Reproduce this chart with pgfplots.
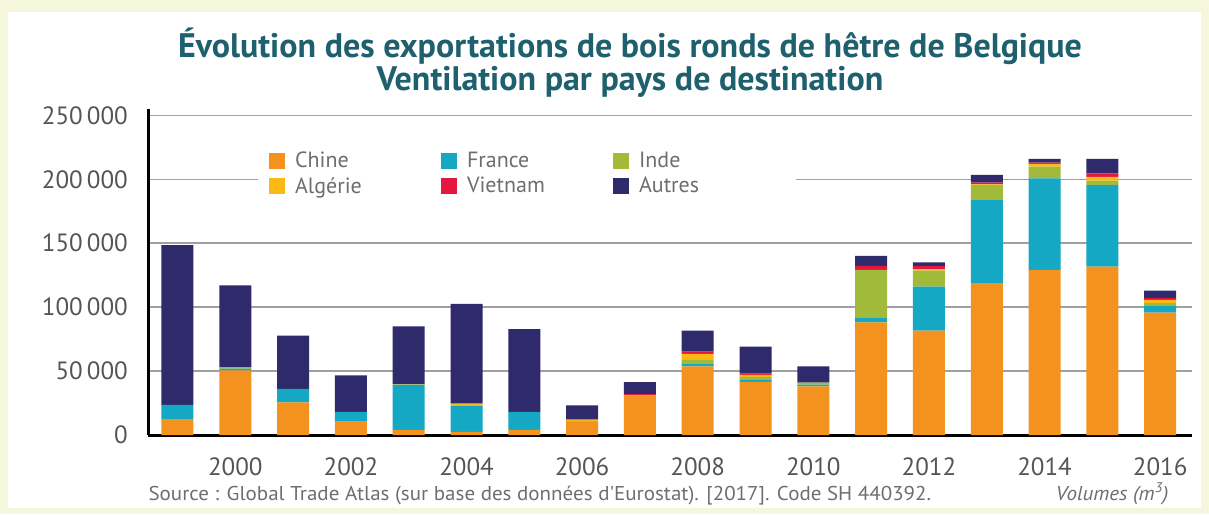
\documentclass[border=0pt]{standalone}
\usepackage{fontspec}
\setmainfont{PT Sans}
\newfontfamily\srcfont[FakeStretch=1.05]{PT Sans}
\usepackage{pgfplots}
\usepackage{pgfplotstable}
\pgfplotsset{compat=1.18}

\definecolor{bgyel}{RGB}{245,247,221}
\definecolor{titleteal}{RGB}{30,96,110}
\definecolor{cChine}{RGB}{243,146,30}
\definecolor{cFrance}{RGB}{20,168,197}
\definecolor{cInde}{RGB}{162,186,58}
\definecolor{cAlgerie}{RGB}{253,185,19}
\definecolor{cVietnam}{RGB}{228,23,63}
\definecolor{cAutres}{RGB}{46,42,107}
\definecolor{labgray}{RGB}{85,85,85}
\definecolor{leggray}{RGB}{110,110,110}
\definecolor{gridgray}{RGB}{160,160,160}

% volumes en m3
\pgfplotstableread{
year chine france inde algerie vietnam autres
1999 12500 11000 0 0 0 125000
2000 50500 1500 1000 0 0 64000
2001 25500 10500 0 0 0 41800
2002 10500 7500 0 0 0 28600
2003 4000 35500 0 300 0 45100
2004 2500 20500 0 1500 0 78100
2005 4000 14000 0 0 0 64800
2006 10000 500 500 1000 0 11100
2007 31000 0 0 0 1000 9400
2008 53600 1800 3400 4700 1800 16400
2009 41500 1500 2500 1500 1000 21200
2010 38000 1500 1500 0 0 12600
2011 88000 3400 37700 0 3200 7800
2012 81700 34400 12500 1000 2600 2900
2013 118700 65100 11700 500 1400 6000
2014 129100 71700 9100 2100 1000 2900
2015 131700 63800 3400 3100 2700 11200
2016 95800 5500 1800 2600 1300 6000
}\exports

\begin{document}
\begin{tikzpicture}[x=1pt,y=1pt]
\fill[bgyel] (0,0) rectangle (1209,514);
\fill[white] (8,6) rectangle (1201,502);
\begin{axis}[
    at={(148pt,79pt)}, anchor=south west,
    scale only axis, width=1044pt, height=326pt,
    xmin=1998.49, xmax=2016.55,
    ymin=0, ymax=255000,
    ybar stacked, bar width=32pt,
    axis x line=bottom, axis y line=left,
    axis line style={-, line width=3pt, black},
    major tick length=0pt,
    xtick={2000,2002,...,2016},
    ytick={0,50000,...,250000},
    scaled y ticks=false,
    ymajorgrids=true,
    grid style={line width=1.5pt, gridgray},
    tick label style={font=\fontsize{25}{28}\selectfont, labgray},
    xticklabel style={/pgf/number format/1000 sep={}, /pgf/number format/assume math mode=true,
        anchor=north, inner sep=0pt, yshift=-22pt},
    yticklabel style={/pgf/number format/fixed, /pgf/number format/1000 sep={\,},
        /pgf/number format/assume math mode=true, anchor=east, inner sep=0pt, xshift=-20pt},
    legend columns=3,
    legend image code/.code={\fill[#1] (0pt,-8pt) rectangle (16pt,8pt);},
    legend style={at={(0.1054,0.868)}, anchor=north west, fill=white, draw=none,
        inner xsep=11pt, inner ysep=0pt, outer sep=0pt,
        font=\fontsize{22}{24}\selectfont, text=leggray,
        nodes={inner sep=0pt},
        row sep=8pt,
        /tikz/every odd column/.append style={column sep=10pt}},
    legend cell align=left,
]
\addplot[fill=cChine, draw=none] table[x=year,y=chine]{\exports};
\addlegendentry{\makebox[146pt][l]{Chine}}
\addplot[fill=cFrance, draw=none] table[x=year,y=france]{\exports};
\addlegendentry{\makebox[146pt][l]{France}}
\addplot[fill=cInde, draw=none] table[x=year,y=inde]{\exports};
\addlegendentry{\makebox[146pt][l]{Inde}}
\addplot[fill=cAlgerie, draw=none] table[x=year,y=algerie]{\exports};
\addlegendentry{\makebox[146pt][l]{Algérie}}
\addplot[fill=cVietnam, draw=none] table[x=year,y=vietnam]{\exports};
\addlegendentry{\makebox[146pt][l]{Vietnam}}
\addplot[fill=cAutres, draw=none] table[x=year,y=autres]{\exports};
\addlegendentry{\makebox[146pt][l]{Autres}}
\end{axis}
\node[anchor=base, font=\bfseries\fontsize{34}{38}\selectfont, text=titleteal] at (630,456)
    {Évolution des exportations de bois ronds de hêtre de Belgique};
\node[anchor=base, font=\bfseries\fontsize{34}{38}\selectfont, text=titleteal] at (630,423)
    {Ventilation par pays de destination};
\node[anchor=base west, font=\srcfont\fontsize{20}{23}\selectfont, text=leggray] at (145,14)
    {Source : Global Trade Atlas (sur base des données d'Eurostat). [2017]. Code SH 440392.};
\node[anchor=base east, font=\srcfont\itshape\fontsize{20}{23}\selectfont, text=leggray] at (1172,14)
    {Volumes (m\textsuperscript{3})};
\end{tikzpicture}
\end{document}
